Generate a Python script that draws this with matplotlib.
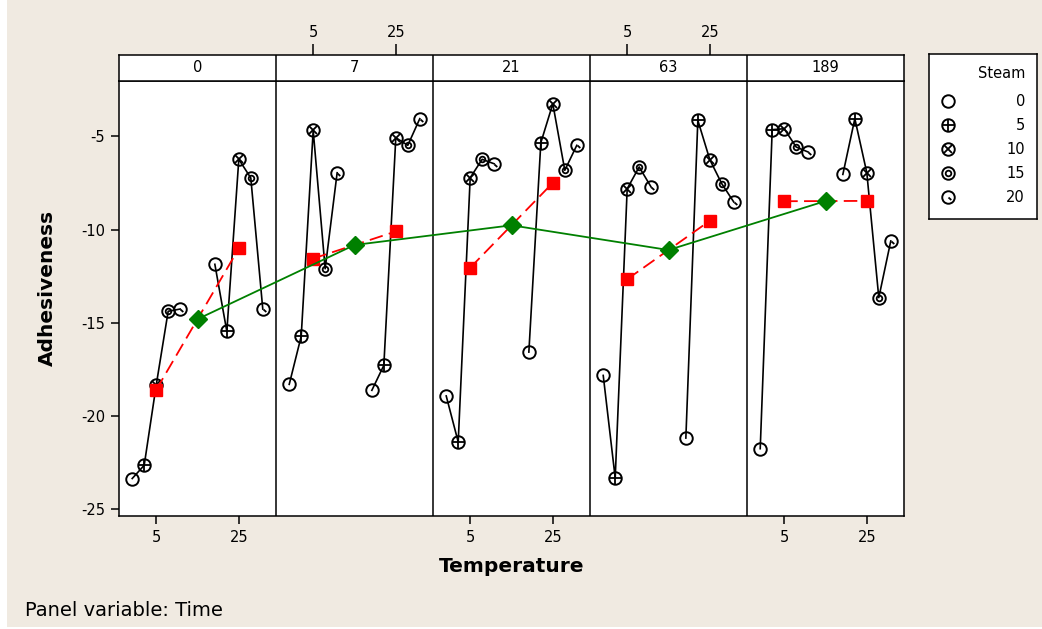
import matplotlib
matplotlib.use('Agg')
import matplotlib.pyplot as plt
import numpy as np
from matplotlib.path import Path
from matplotlib.patches import Rectangle

plt.rcParams['font.family'] = 'DejaVu Sans'
plt.rcParams['axes.unicode_minus'] = False

# panel variable, x variable and group variable
time_levels = [0, 7, 21, 63, 189]
temps = [5, 25]
steam_levels = [0, 5, 10, 15, 20]

# adhesiveness, rows = time, columns = steam (0, 5, 10, 15, 20)
adh_temp5 = [
    [-23.35, -22.64, -18.35, -14.38, -14.26],
    [-18.30, -15.72, -4.68, -12.10, -6.95],
    [-18.92, -21.39, -7.22, -6.23, -6.47],
    [-17.82, -23.32, -7.81, -6.64, -7.72],
    [-21.75, -4.64, -4.59, -5.57, -5.84],
]
adh_temp25 = [
    [-11.86, -15.46, -6.23, -7.23, -14.26],
    [-18.62, -17.28, -5.07, -5.48, -4.05],
    [-16.57, -5.34, -3.25, -6.82, -5.48],
    [-21.18, -4.14, -6.25, -7.54, -8.52],
    [-7.04, -4.05, -6.95, -13.65, -10.61],
]

W, H = 1042, 629
bg = '#F0EAE1'


def px_rect(x0, y0, x1, y1):
    return [x0 / W, 1 - y1 / H, (x1 - x0) / W, (y1 - y0) / H]


fig = plt.figure(figsize=(W / 100, H / 100), dpi=100, facecolor='white')
fig.patches.append(Rectangle((7 / W, 2 / H), 1, 1, transform=fig.transFigure,
                             facecolor=bg, edgecolor='none', zorder=-10))

# small tick inside the circle for steam 20
tick_path = Path([(0, 0), (0.45, -0.4), (1, 1)], [Path.MOVETO, Path.LINETO, Path.MOVETO])
inner = {0: [], 5: [('+', 1.0)], 10: [('x', 0.7)], 15: [('o', 0.45)], 20: [(tick_path, 1.0)]}


def steam_marker(a, x, y, s, ms=9):
    a.plot(x, y, ls='none', marker='o', ms=ms, mfc='none', mec='black', mew=1.4, zorder=3)
    for m, f in inner[s]:
        a.plot(x, y, ls='none', marker=m, ms=ms * f, mfc='none', mec='black', mew=1.3, zorder=3)


lo, span = -4, 38
step = 2.9  # spacing of the steam levels around each temperature
offsets = (np.arange(len(steam_levels)) - 2) * step

ax = fig.add_axes(px_rect(119, 81, 904, 516))
ax.set_xlim(lo, lo + 5 * span)
ax.set_ylim(-25.36, -2.03)
for i in range(1, 5):
    ax.axvline(lo + i * span, color='black', lw=1.1, zorder=1)

for i, t in enumerate(time_levels):
    groups = [adh_temp5[i], adh_temp25[i]]
    for temp, vals in zip(temps, groups):
        xs = i * span + temp + offsets
        ax.plot(xs, vals, color='black', lw=1.2, zorder=2)
        for k, s in enumerate(steam_levels):
            steam_marker(ax, xs[k], vals[k], s)
    means = [np.mean(g) for g in groups]
    ax.plot(i * span + np.array(temps), means, color='red', lw=1.3, ls=(0, (7.5, 3.5)),
            marker='s', ms=9, mfc='red', mec='red', zorder=4)

panel_means = [(np.mean(a) + np.mean(b)) / 2 for a, b in zip(adh_temp5, adh_temp25)]
ax.plot(np.arange(5) * span + 15, panel_means, color='#008000', lw=1.3,
        marker='D', ms=9, mfc='#008000', mec='#008000', zorder=5)

bottom_ticks = [i * span + tp for i in (0, 2, 4) for tp in temps]
ax.set_xticks(bottom_ticks)
ax.set_xticklabels([str(tp) for i in (0, 2, 4) for tp in temps])
ax.set_yticks([-25, -20, -15, -10, -5])
ax.tick_params(direction='out', length=6, width=1.1, labelsize=10.5, pad=4)
for sp in ax.spines.values():
    sp.set_linewidth(1.1)
ax.set_xlabel('Temperature', fontsize=14.5, fontweight='bold', labelpad=9)

# strip with the panel labels and the top ticks
sax = fig.add_axes(px_rect(119, 55, 904, 81))
sax.set_facecolor('white')
sax.set_xlim(lo, lo + 5 * span)
sax.set_ylim(0, 1)
sax.set_yticks([])
sax.xaxis.tick_top()
sax.set_xticks([i * span + tp for i in (1, 3) for tp in temps])
sax.set_xticklabels([str(tp) for i in (1, 3) for tp in temps])
sax.tick_params(direction='out', length=8, width=1.1, labelsize=10.5, pad=3)
for sp in sax.spines.values():
    sp.set_linewidth(1.1)
for i, t in enumerate(time_levels):
    if i > 0:
        sax.axvline(lo + i * span, color='black', lw=1.1)
    sax.text(lo + i * span + span / 2, 0.5, str(t), ha='center', va='center', fontsize=10.5)

fig.text(47 / W, 1 - 288 / H, 'Adhesiveness', rotation=90, ha='center', va='center',
         fontsize=14.5, fontweight='bold')
fig.text(25 / W, 1 - 610 / H, 'Panel variable: Time', ha='left', va='center', fontsize=14)

# legend box
lax = fig.add_axes(px_rect(929, 54, 1037, 219))
lax.set_xlim(929, 1037)
lax.set_ylim(219, 54)
lax.set_xticks([])
lax.set_yticks([])
for sp in lax.spines.values():
    sp.set_linewidth(1.1)
lax.text(1025, 73, 'Steam', ha='right', va='center', fontsize=10.5)
for k, s in enumerate(steam_levels):
    yy = 101 + 24 * k
    steam_marker(lax, 948, yy, s)
    lax.text(1025, yy, str(s), ha='right', va='center', fontsize=10.5)

fig.savefig('out.png', dpi=100, facecolor=fig.get_facecolor())
